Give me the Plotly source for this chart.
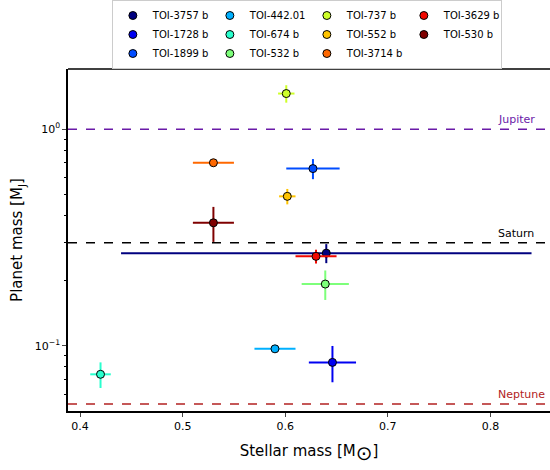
import math
import plotly.graph_objects as go

names = ["TOI-3757 b", "TOI-1728 b", "TOI-1899 b", "TOI-442.01", "TOI-674 b", "TOI-532 b",
         "TOI-737 b", "TOI-552 b", "TOI-3714 b", "TOI-3629 b", "TOI-530 b"]
stellar_mass = [0.640, 0.646, 0.627, 0.590, 0.420, 0.639, 0.601, 0.602, 0.530, 0.630, 0.530]
stellar_mass_err = [0.200, 0.023, 0.026, 0.020, 0.010, 0.023, 0.008, 0.008, 0.020, 0.020, 0.020]
planet_mass = [0.268, 0.084, 0.658, 0.097, 0.074, 0.193, 1.46, 0.49, 0.70, 0.259, 0.37]
planet_mass_err = [0.027, 0.016, 0.070, 0.003, 0.010, 0.030, 0.135, 0.040, 0.020, 0.019, 0.068]
colors = ["#00007f", "#0000f1", "#004cff", "#00b0ff", "#29ffce", "#7dff7a",
          "#ceff29", "#ffc400", "#ff6800", "#f10800", "#7f0000"]

ref_names = ["Jupiter", "Saturn", "Neptune"]
ref_mass = [1.0, 0.299, 0.054]
ref_colors = ["#6a1aa8", "#000000", "#b22222"]

x_ticks = [0.4, 0.5, 0.6, 0.7, 0.8]
y_ticks = [0.1, 1.0]
y_ticktext = ["10<sup>\u22121</sup>", "10<sup>0</sup>"]
y_minor = [0.05, 0.06, 0.07, 0.08, 0.09, 0.2, 0.3, 0.4, 0.5, 0.6, 0.7, 0.8, 0.9]

FONT = "DejaVu Sans"
fig = go.Figure()

n_rows = 3
n_cols = 4
for i, name in enumerate(names):
    col = i // n_rows
    row = i % n_rows
    fig.add_trace(go.Scatter(
        x=[stellar_mass[i]], y=[planet_mass[i]], name=name, mode="markers",
        marker=dict(color=colors[i], size=8, line=dict(color="black", width=1)),
        error_x=dict(type="data", array=[stellar_mass_err[i]], color=colors[i], thickness=2, width=0),
        error_y=dict(type="data", array=[planet_mass_err[i]], color=colors[i], thickness=2, width=0),
        legendrank=row * n_cols + col + 1,
    ))

for nm, m, c in zip(ref_names, ref_mass, ref_colors):
    fig.add_shape(type="line", xref="paper", yref="y", x0=0, x1=1, y0=m, y1=m,
                  line=dict(color=c, width=1.5, dash="dash"))
    fig.add_annotation(x=0.805, y=math.log10(m), xref="x", yref="y", text=nm, showarrow=False,
                       xanchor="left", yanchor="bottom", yshift=1,
                       font=dict(family=FONT, size=11, color=c))

# top spine
fig.add_shape(type="line", xref="paper", yref="paper", x0=0, x1=1, y0=1, y1=1,
              line=dict(color="black", width=1.5))

fig.update_layout(
    width=550, height=470,
    margin=dict(l=68, r=0, t=67, b=59),
    paper_bgcolor="white", plot_bgcolor="white",
    font=dict(family=FONT, color="black"),
    showlegend=True,
    legend=dict(orientation="h", x=0.505, xanchor="center", y=1.0, yanchor="bottom",
                entrywidth=52, font=dict(family=FONT, size=10),
                bordercolor="#cccccc", borderwidth=1, bgcolor="white"),
    xaxis=dict(range=[0.3883, 0.858], tickvals=x_ticks, ticks="outside", ticklen=4,
               showline=True, linecolor="black", linewidth=1.5, mirror=False,
               showgrid=False, zeroline=False, tickfont=dict(size=11),
               title=dict(text="Stellar mass [M<sub><span style='font-size:20px'>\u2299</span></sub>]",
                          font=dict(size=15), standoff=14)),
    yaxis=dict(type="log", range=[-1.3, 0.2776], tickvals=y_ticks, ticktext=y_ticktext,
               ticks="outside", ticklen=4, showline=True, linecolor="black", linewidth=1.5,
               showgrid=False, zeroline=False, tickfont=dict(size=11),
               minor=dict(tickvals=y_minor, ticks="outside", ticklen=2.5, tickcolor="black", showgrid=False),
               title=dict(text="Planet mass [M<sub>J</sub>]", font=dict(size=15), standoff=8)),
)

fig.write_html("out.html")
